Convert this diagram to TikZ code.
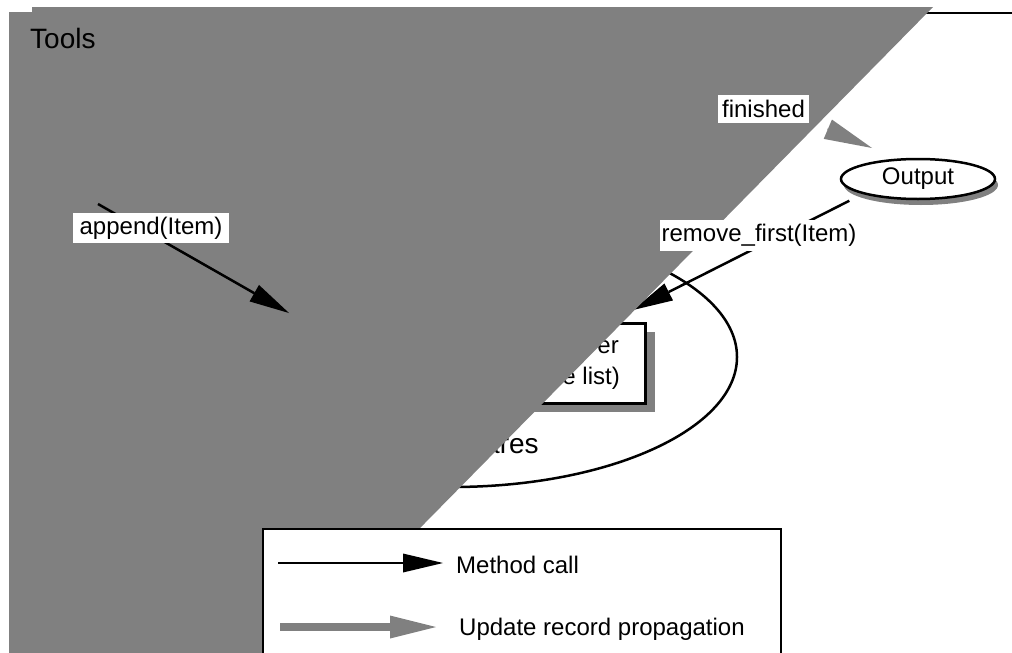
\documentclass[tikz,border=0pt]{standalone}
\usepackage{fontspec}
\setmainfont{Liberation Sans}
\usetikzlibrary{arrows.meta,shapes.geometric,shadows}
\definecolor{regiongray}{RGB}{128,128,128}
\begin{document}
\begin{tikzpicture}[x=1pt,y=-1pt,
  lbl/.style={fill=white, inner sep=0pt, font=\fontsize{24}{28}\selectfont},
  plain/.style={inner sep=0pt, font=\fontsize{24}{28}\selectfont},
  big/.style={inner sep=0pt, font=\fontsize{28}{32}\selectfont},
  call/.style={line width=2.5pt, -{Triangle[length=40pt,width=19pt,line width=0pt]}},
  upd/.style={draw=regiongray, color=regiongray, line width=8.5pt, -{Triangle[length=46pt,width=23pt,line width=0pt]}},
  updhead/.style={draw=regiongray, color=regiongray, line width=1pt, -{Triangle[length=48pt,width=21pt,line width=0pt]}},
  thinline/.style={line width=2.5pt}]
\useasboundingbox (0,0) rectangle (1012,653);
% ---- parts lying under the grey region
\draw[thinline] (920,13) -- (1012,13);
\node[ellipse, draw, thinline, fill=white, minimum width=570pt, minimum height=260pt] (ds) at (452,357) {};
\node[rectangle, draw, line width=3pt, fill=white, minimum width=205pt, minimum height=80pt,
  drop shadow={shadow xshift=10pt, shadow yshift=-9pt, fill=regiongray, opacity=1}] (buf) at (542.5,363) {};
\node[plain, anchor=base east] (t1) at (619,353) {er};
\node[plain, anchor=base east] (t2) at (620,384) {e list)};
\node[big, anchor=base west] (t3) at (484,453) {ares};
\node[ellipse, draw, thinline, fill=white, minimum width=154pt, minimum height=40pt, inner sep=0pt,
  font=\fontsize{24}{28}\selectfont,
  drop shadow={shadow xshift=3pt, shadow yshift=-6pt, fill=regiongray, opacity=1}] (out) at (918,179) {Output};
\coordinate (rtip) at (633,310);
\draw[call, shorten <=15pt] (out.south west) -- (rtip);
% ---- grey region
\fill[regiongray] (9,7) -- (933,7) -- (297,653) -- (9,653) -- cycle;
\fill[white] (9,6) rectangle (32,12);
% ---- parts above the grey region
\node[big, anchor=base west] (tools) at (30,48) {Tools};
\coordinate (aS) at (98,204);
\coordinate (aT) at (289,313);
\draw[call] (aS) -- (aT);
\node[lbl, minimum width=156pt, minimum height=30pt] (ap) at (151,228) {append(Item)};
\node[lbl, minimum width=198pt, minimum height=31pt] (rf) at (759,235.5) {remove\_first(Item)};
\node[lbl, minimum width=91pt, minimum height=28pt] (fin) at (763.5,109) {finished};
\coordinate (fS) at (827.3,129);
\coordinate (fT) at (872,148);
\draw[updhead] (fS) -- (fT);
% ---- legend
\draw[thinline, fill=white] (263,529) rectangle (781,680);
\coordinate (m1) at (278,563);
\coordinate (m2) at (443,563);
\draw[call] (m1) -- (m2);
\node[plain, anchor=base west] (mc) at (456,573) {Method call};
\coordinate (u1) at (280,627);
\coordinate (u2) at (436,627);
\draw[upd] (u1) -- (u2);
\node[plain, anchor=base west] (ur) at (459,635) {Update record propagation};
\end{tikzpicture}
\end{document}
